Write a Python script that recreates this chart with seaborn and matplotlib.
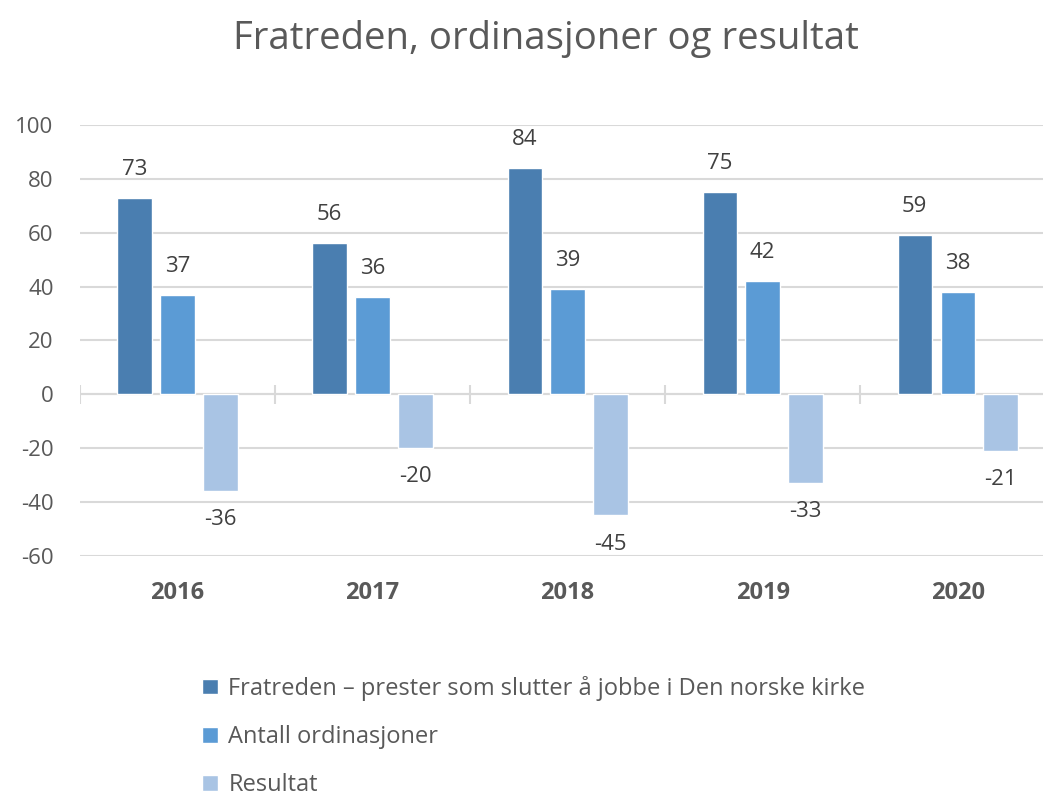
import pandas as pd
import numpy as np
import matplotlib.pyplot as plt
import seaborn as sns

# Data
years = ['2016', '2017', '2018', '2019', '2020']
fratreden = [73, 56, 84, 75, 59]
ordinasjoner = [37, 36, 39, 42, 38]
resultat = [-36, -20, -45, -33, -21]
series_names = ['Fratreden – prester som slutter å jobbe i Den norske kirke',
                'Antall ordinasjoner',
                'Resultat']
colors = ['#4A7EB0', '#5B9BD5', '#A9C4E4']

sns.set_theme(style="white")
plt.rcParams['font.family'] = ['Open Sans', 'DejaVu Sans']
plt.rcParams['axes.unicode_minus'] = False

df = pd.DataFrame({
    'year': years * 3,
    'value': fratreden + ordinasjoner + resultat,
    'series': [series_names[0]] * 5 + [series_names[1]] * 5 + [series_names[2]] * 5,
})

fig = plt.figure(figsize=(10.43, 8.01), dpi=100)
ax = fig.add_axes([0.0767, 0.306, 0.935, 0.538])

sns.barplot(data=df, x='year', y='value', hue='series', hue_order=series_names,
            palette=colors, width=0.66, gap=0.2, saturation=1, ax=ax, legend=True)

for cont in ax.containers:
    ax.bar_label(cont, padding=13, fontsize=16, color='#404040')

ax.set_ylim(-60, 100)
ax.set_xlim(-0.5, len(years) - 0.5)
ax.set_yticks(np.arange(-60, 101, 20))
ax.grid(axis='y', color='#D9D9D9', linewidth=1.5)
ax.set_axisbelow(True)
ax.axhline(0, color='#D9D9D9', linewidth=1.5, zorder=0)
ax.vlines(np.arange(len(years) + 1) - 0.5, -3.5, 3.5, color='#D9D9D9', linewidth=1.5, zorder=0)
for s in ax.spines.values():
    s.set_visible(False)

ax.set_xlabel('')
ax.set_ylabel('')
ax.tick_params(axis='x', length=0, pad=18, labelsize=17, labelcolor='#595959')
ax.tick_params(axis='y', length=0, pad=19, labelsize=16, labelcolor='#595959')
for lbl in ax.get_xticklabels():
    lbl.set_fontweight('bold')

handles, labels = ax.get_legend_handles_labels()
ax.get_legend().remove()
fig.legend(handles, labels, loc='upper left', bbox_to_anchor=(0.185, 0.168),
           frameon=False, fontsize=17, labelcolor='#595959',
           handlelength=0.65, handleheight=0.65, handletextpad=0.45, labelspacing=1.02,
           borderaxespad=0)

fig.suptitle('Fratreden, ordinasjoner og resultat', x=0.523, y=0.975, fontsize=27.6,
             color='#595959')

fig.savefig('out.png', dpi=100, facecolor='white')
